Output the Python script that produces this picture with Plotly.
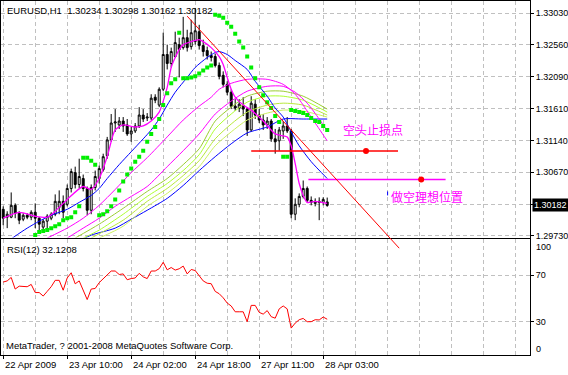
import plotly.graph_objects as go

# ---------------- data ----------------
opens = [1.30124, 1.30007, 1.30007, 1.30183, 1.30066, 1.29977, 1.30036, 1.30007, 1.30080, 1.29992,
         1.29860, 1.29948, 1.29992, 1.30051, 1.30154, 1.30242, 1.30198, 1.30433, 1.30668, 1.30492,
         1.30580, 1.30433, 1.30110, 1.30448, 1.30580, 1.30712, 1.30919, 1.31153, 1.31403, 1.31374,
         1.31432, 1.31374, 1.31241, 1.31285, 1.31359, 1.31521, 1.31477, 1.31477, 1.31785, 1.31668,
         1.31903, 1.32418, 1.32285, 1.32388, 1.32564, 1.32520, 1.32667, 1.32535, 1.32609, 1.32756,
         1.32550, 1.32476, 1.32403, 1.32388, 1.32256, 1.32109, 1.31976, 1.31859, 1.31653, 1.31624,
         1.31668, 1.31609, 1.31300, 1.31682, 1.31521, 1.31447, 1.31374, 1.31432, 1.31168, 1.31139,
         1.31285, 1.31359, 1.31285, 1.30051, 1.30198, 1.30315, 1.30433, 1.30257, 1.30212, 1.30242,
         1.30227, 1.30234]
highs = [1.30168, 1.30095, 1.30374, 1.30212, 1.30095, 1.30066, 1.30066, 1.30110, 1.30212, 1.30007,
         1.29977, 1.30051, 1.30080, 1.30345, 1.30404, 1.30330, 1.30492, 1.30727, 1.30756, 1.30874,
         1.30639, 1.30462, 1.30492, 1.30698, 1.30771, 1.30948, 1.31197, 1.31536, 1.31609, 1.31491,
         1.31491, 1.31462, 1.31344, 1.31403, 1.31638, 1.31609, 1.31550, 1.31829, 1.31829, 1.31932,
         1.32741, 1.32564, 1.32520, 1.32756, 1.32667, 1.32976, 1.32785, 1.32932, 1.33108, 1.32858,
         1.32638, 1.32535, 1.32462, 1.32432, 1.32300, 1.32168, 1.32021, 1.31903, 1.31756, 1.31756,
         1.31785, 1.31638, 1.31800, 1.31756, 1.31609, 1.31536, 1.31491, 1.31462, 1.31315, 1.31344,
         1.31432, 1.31491, 1.31315, 1.30286, 1.30360, 1.30551, 1.30462, 1.30315, 1.30286, 1.30301,
         1.30301, 1.30298]
lows = [1.29889, 1.29845, 1.29992, 1.29992, 1.29904, 1.29948, 1.29977, 1.29963, 1.29845, 1.29816,
        1.29801, 1.29845, 1.29963, 1.30022, 1.30051, 1.29992, 1.30168, 1.30374, 1.30433, 1.30433,
        1.30389, 1.30036, 1.30051, 1.30404, 1.30506, 1.30683, 1.30874, 1.31124, 1.31271, 1.31315,
        1.31271, 1.31212, 1.31124, 1.31256, 1.31329, 1.31418, 1.31432, 1.31447, 1.31697, 1.31638,
        1.31874, 1.32197, 1.32226, 1.32373, 1.32079, 1.32491, 1.32462, 1.32491, 1.32564, 1.32491,
        1.32388, 1.32344, 1.32315, 1.32226, 1.32050, 1.31932, 1.31815, 1.31609, 1.31580, 1.31565,
        1.31506, 1.31212, 1.31271, 1.31462, 1.31403, 1.31300, 1.31315, 1.31124, 1.30948, 1.30992,
        1.31168, 1.31256, 1.29992, 1.29963, 1.30154, 1.30286, 1.30227, 1.30183, 1.30168, 1.29963,
        1.30183, 1.30162]
closes = [1.29992, 1.30051, 1.30183, 1.30066, 1.29963, 1.30036, 1.30007, 1.30080, 1.29992, 1.29904,
          1.29948, 1.30022, 1.30051, 1.30242, 1.30242, 1.30080, 1.30433, 1.30683, 1.30492, 1.30610,
          1.30433, 1.30110, 1.30448, 1.30610, 1.30727, 1.30904, 1.31153, 1.31403, 1.31418, 1.31432,
          1.31359, 1.31241, 1.31285, 1.31359, 1.31521, 1.31462, 1.31491, 1.31771, 1.31741, 1.31903,
          1.32418, 1.32285, 1.32462, 1.32594, 1.32491, 1.32667, 1.32520, 1.32741, 1.32770, 1.32550,
          1.32462, 1.32403, 1.32373, 1.32256, 1.32094, 1.31976, 1.31859, 1.31653, 1.31624, 1.31682,
          1.31609, 1.31300, 1.31697, 1.31521, 1.31447, 1.31374, 1.31432, 1.31168, 1.31124, 1.31300,
          1.31359, 1.31285, 1.30051, 1.30198, 1.30315, 1.30433, 1.30257, 1.30227, 1.30242, 1.30227,
          1.30271, 1.30182]
rsi = [64, 65, 68, 58, 60.5, 60, 60, 62, 55, 55,
       52, 56, 60, 65.5, 65.5, 57, 67.5, 72, 62.5, 65,
       56.5, 49, 58, 58.5, 63.5, 67, 70, 73.5, 73.5, 70.5,
       71, 66, 67, 67.5, 71.5, 68.5, 67, 73.5, 73.5, 75.5,
       81, 74.5, 76.5, 74.3, 75.4, 77.7, 71, 74.8, 73.9, 69,
       65, 63, 62.6, 56, 54, 50.5, 46, 43.5, 38.5, 38.5,
       38.5, 30, 44, 44, 38, 36.5, 39.5, 34.3, 33, 41,
       43.5, 41, 24.5, 28.8, 31.7, 32.8, 30, 30, 31.7, 31.5,
       34, 32.1208]

# moving averages read at sample bars
ma_fast_bars = [0, 4, 8, 11, 13, 16, 20, 22, 24, 26, 28, 30, 33, 35, 37, 39, 40, 41, 42, 43, 44, 45, 47, 49,
                50, 52, 54, 55, 56, 57, 58, 60, 62, 65, 68, 70, 71, 72, 73, 74, 75, 76, 78, 81]
ma_fast = [1.29992, 1.30080, 1.30021, 1.30007, 1.30095, 1.30271, 1.30462, 1.30418, 1.30580, 1.30904,
           1.31300, 1.31374, 1.31344, 1.31359, 1.31432, 1.31565, 1.31727, 1.31932, 1.32226, 1.32373,
           1.32491, 1.32564, 1.32609, 1.32638, 1.32609, 1.32520, 1.32388, 1.32271, 1.32079, 1.31903,
           1.31785, 1.31668, 1.31594, 1.31432, 1.31241, 1.31212, 1.31197, 1.31065, 1.30801, 1.30506,
           1.30330, 1.30227, 1.30242, 1.30212]
ma_mid_bars = [1, 3, 6, 9, 12, 16, 19, 22, 24, 26, 29, 32, 35, 37, 39, 41, 43, 46, 48, 51, 53, 54, 56, 58,
               61, 63, 66, 68, 70, 72, 74, 77, 81]
ma_mid = [1.29639, 1.29727, 1.29845, 1.29948, 1.30036, 1.30124, 1.30227, 1.30330, 1.30433, 1.30580,
          1.30786, 1.30977, 1.31168, 1.31300, 1.31462, 1.31668, 1.31859, 1.32079, 1.32226, 1.32373,
          1.32447, 1.32462, 1.32418, 1.32329, 1.32197, 1.32021, 1.31800, 1.31624, 1.31491, 1.31271,
          1.31065, 1.30830, 1.30580]
ma_slow_bars = [20, 22, 28, 32, 36, 41, 45, 49, 53, 57, 61, 66, 70, 75, 81]
ma_slow = [1.29683, 1.29742, 1.29845, 1.29977, 1.30110, 1.30286, 1.30477, 1.30698, 1.30904, 1.31095,
           1.31256, 1.31344, 1.31462, 1.31462, 1.31462]
ma_m1_bars = [11, 16, 20, 24, 28, 32, 36, 41, 45, 49, 52, 54, 57, 61, 66, 70, 73, 76, 79, 81]
ma_m1 = [1.29698, 1.29845, 1.29992, 1.30183, 1.30418, 1.30668, 1.30889, 1.31197, 1.31447, 1.31653,
         1.31785, 1.31903, 1.31991, 1.32050, 1.32050, 1.31976, 1.31829, 1.31580, 1.31315, 1.31139]
ma_m2_bars = [16, 20, 24, 28, 32, 36, 41, 45, 49, 53, 57, 61, 66, 70, 73, 76, 79, 81]
ma_m2 = [1.29698, 1.29845, 1.29992, 1.30168, 1.30315, 1.30462, 1.30756, 1.30992, 1.31241, 1.31536,
         1.31727, 1.31874, 1.31947, 1.31947, 1.31859, 1.31697, 1.31462, 1.31285]
ma_g1_bars = [18, 24, 30, 36, 41, 45, 49, 53, 57, 61, 66, 70, 75, 81]
ma_g1 = [1.29698, 1.29904, 1.30139, 1.30389, 1.30580, 1.30786, 1.31021, 1.31432, 1.31638, 1.31800,
         1.31874, 1.31874, 1.31800, 1.31609]
ma_g2_bars = [20, 24, 30, 36, 41, 45, 49, 53, 57, 61, 66, 70, 75, 81]
ma_g2 = [1.29698, 1.29816, 1.30051, 1.30315, 1.30506, 1.30698, 1.30933, 1.31315, 1.31536, 1.31712,
         1.31800, 1.31800, 1.31741, 1.31565]
ma_g3_bars = [22, 30, 36, 41, 45, 49, 53, 57, 61, 66, 70, 75, 81]
ma_g3 = [1.29698, 1.29963, 1.30242, 1.30433, 1.30624, 1.30845, 1.31168, 1.31388, 1.31565, 1.31668,
         1.31697, 1.31668, 1.31521]
ma_g4_bars = [24, 30, 36, 41, 45, 49, 53, 57, 61, 66, 70, 75, 81]
ma_g4 = [1.29698, 1.29874, 1.30168, 1.30360, 1.30551, 1.30756, 1.31065, 1.31271, 1.31447, 1.31550,
         1.31594, 1.31580, 1.31491]

# parabolic SAR, bars 8..81
sar = [1.29742, 1.29786, 1.29801, 1.29816, 1.29845, 1.29874, 1.29904, 1.29963, 1.29992, 1.30007,
       1.30080, 1.30168, 1.30889, 1.30889, 1.30845, 1.30786, 1.30036, 1.30051, 1.30095, 1.30168,
       1.30271, 1.30404, 1.30536, 1.30639, 1.30727, 1.30830, 1.30904, 1.30992, 1.31124, 1.31241,
       1.31344, 1.31462, 1.31668, 1.31844, 1.31991, 1.32050, 1.32741, 1.32065, 1.32065, 1.32079,
       1.32094, 1.32138, 1.32182, 1.32226, 1.32256, 1.33006, 1.32991, 1.32961, 1.32888, 1.32829,
       1.32726, 1.32609, 1.32520, 1.32388, 1.32226, 1.32065, 1.31932, 1.31815, 1.31712, 1.31624,
       1.31506, 1.31418, 1.30904, 1.30904, 1.31594, 1.31580, 1.31565, 1.31550, 1.31521, 1.31477,
       1.31432, 1.31418, 1.31359, 1.31300]
sar_first_bar = 8

# drawn objects
trend_bars = [46, 99]
trend_prices = [1.32986, 1.29548]
stop_bars = [62, 98.7]
stop_price = 1.30987
stop_dot_bar = 90.7
target_bars = [76.3, 110.6]
target_price = 1.30565
target_dot_bar = 104.5
mark_bar = 96.1
mark_prices = [1.30389, 1.30330]
stop_text = "空头止损点"
stop_text_pos = (84.5, 1.31300)
target_text = "做空理想位置"
target_text_pos = (96.5, 1.30315)

# axes labels
price_ticks = [1.33030, 1.32559, 1.32087, 1.31616, 1.31144, 1.30673, 1.30201, 1.29730]
price_tick_text = ['1.33030', '1.32560', '1.32090', '1.31610', '1.31140', '1.30670', '', '1.29730']
rsi_ticks = [30, 70]
rsi_edge_labels = ['100', '0']
time_label_bars = [0, 16, 32, 48, 64, 80]
time_labels = ['22 Apr 2009', '23 Apr 10:00', '24 Apr 02:00', '24 Apr 18:00', '27 Apr 11:00', '28 Apr 03:00']
grid_bars = list(range(0, 132, 8))

# ---------------- layout geometry ----------------
W, H = 568, 375
def px_x(p):
    return p / W
def px_y(p):
    return 1 - p / H

xdom = [px_x(1), px_x(530)]
main_dom = [px_y(239.5), px_y(1)]
rsi_dom = [px_y(358), px_y(241)]
xrange_ = [-0.55, 131.7]
price_range = [1.29705, 1.33211]
rsi_range = [1.3, 100.9]

def bar_to_paper(b):
    return xdom[0] + (b - xrange_[0]) / (xrange_[1] - xrange_[0]) * (xdom[1] - xdom[0])
def price_to_paper(p):
    return main_dom[0] + (p - price_range[0]) / (price_range[1] - price_range[0]) * (main_dom[1] - main_dom[0])

FONT = "Liberation Sans, Arial, sans-serif"
GRID = "#c0c0c0"
DASH = "4px,3px"
MAG = "#ff00ff"
BLUE = "#0000ff"

fig = go.Figure()

def ma(xs, ys, color, width=1.0):
    fig.add_trace(go.Scatter(x=xs, y=ys, mode="lines", line=dict(color=color, width=width, shape="spline", smoothing=0.7),
                             xaxis="x", yaxis="y", hoverinfo="skip", showlegend=False))

ma(ma_slow_bars, ma_slow, BLUE)
ma(ma_g4_bars, ma_g4, "#ccf060")
ma(ma_g3_bars, ma_g3, "#b8e83c")
ma(ma_g2_bars, ma_g2, "#adff2f")
ma(ma_g1_bars, ma_g1, "#9acd32")
ma(ma_m2_bars, ma_m2, MAG)
ma(ma_m1_bars, ma_m1, MAG)
ma(ma_mid_bars, ma_mid, BLUE)

bars = list(range(len(closes)))
fig.add_trace(go.Candlestick(
    x=bars, open=opens, high=highs, low=lows, close=closes,
    increasing=dict(line=dict(color="black", width=1), fillcolor="white"),
    decreasing=dict(line=dict(color="black", width=1), fillcolor="black"),
    whiskerwidth=0, xaxis="x", yaxis="y", hoverinfo="skip", showlegend=False))

ma(ma_fast_bars, ma_fast, MAG, 1.3)

fig.add_trace(go.Scatter(x=list(range(sar_first_bar, sar_first_bar + len(sar))), y=sar, mode="markers",
                         marker=dict(symbol="square", size=4, color="#00ee00", line=dict(width=0)),
                         xaxis="x", yaxis="y", hoverinfo="skip", showlegend=False))

# horizontal drawn lines with dots
fig.add_trace(go.Scatter(x=stop_bars, y=[stop_price, stop_price], mode="lines",
                         line=dict(color="#ff0000", width=1.5), xaxis="x", yaxis="y", hoverinfo="skip", showlegend=False))
fig.add_trace(go.Scatter(x=target_bars, y=[target_price, target_price], mode="lines",
                         line=dict(color=MAG, width=1.5), xaxis="x", yaxis="y", hoverinfo="skip", showlegend=False))
fig.add_trace(go.Scatter(x=[stop_dot_bar, target_dot_bar], y=[stop_price, target_price], mode="markers",
                         marker=dict(symbol="circle", size=6, color="#ff0000", line=dict(width=0)),
                         xaxis="x", yaxis="y", hoverinfo="skip", showlegend=False))
fig.add_trace(go.Scatter(x=[mark_bar, mark_bar], y=mark_prices, mode="lines",
                         line=dict(color=BLUE, width=1), xaxis="x", yaxis="y", hoverinfo="skip", showlegend=False))

# RSI
fig.add_trace(go.Scatter(x=bars, y=rsi, mode="lines", line=dict(color="#ff0000", width=1),
                         xaxis="x2", yaxis="y2", hoverinfo="skip", showlegend=False))

# trend line (extends across the panel border like in the terminal)
fig.add_shape(type="line", xref="paper", yref="paper",
              x0=bar_to_paper(trend_bars[0]), y0=price_to_paper(trend_prices[0]),
              x1=bar_to_paper(trend_bars[1]), y1=price_to_paper(trend_prices[1]),
              line=dict(color="#ff0000", width=1))

axis_common = dict(showline=True, linecolor="black", linewidth=1, mirror=True, zeroline=False,
                   gridcolor=GRID, griddash=DASH, gridwidth=1)

minor_bars = [b for b in grid_bars if b not in time_label_bars]
fig.update_layout(
    width=W, height=H, autosize=False,
    margin=dict(l=0, r=0, t=0, b=0, pad=0),
    paper_bgcolor="white", plot_bgcolor="white",
    font=dict(family=FONT, size=9, color="black"),
    showlegend=False,
    xaxis=dict(domain=xdom, range=xrange_, anchor="y", tickmode="array", tickvals=grid_bars,
               showticklabels=False, ticks="", showgrid=True, rangeslider=dict(visible=False), **axis_common),
    yaxis=dict(domain=main_dom, range=price_range, anchor="x", side="right", tickmode="array",
               tickvals=price_ticks, ticktext=price_tick_text, ticks="outside", ticklen=3,
               tickcolor="black", showgrid=True, tickfont=dict(size=9, family=FONT), **axis_common),
    xaxis2=dict(domain=xdom, range=xrange_, anchor="y2", tickmode="array", tickvals=time_label_bars,
                showticklabels=False, ticks="outside", ticklen=3, tickcolor="black", showgrid=True,
                minor=dict(tickvals=minor_bars, showgrid=True, gridcolor=GRID, griddash=DASH, ticks=""),
                **axis_common),
    yaxis2=dict(domain=rsi_dom, range=rsi_range, anchor="x2", side="right", tickmode="array",
                tickvals=rsi_ticks, ticks="outside", ticklen=3, tickcolor="black", showgrid=True,
                tickfont=dict(size=9, family=FONT), **axis_common),
)

ann = []
ann.append(dict(text=f"EURUSD,H1\u00a0\u00a0{opens[-1]:.5f} {highs[-1]:.5f} {lows[-1]:.5f} {closes[-1]:.5f}",
                xref="paper", yref="paper", x=px_x(5), y=px_y(3), xanchor="left", yanchor="top",
                showarrow=False, font=dict(size=9.5)))
ann.append(dict(text=f"RSI(12) {rsi[-1]:.4f}", xref="paper", yref="paper", x=px_x(5), y=px_y(244),
                xanchor="left", yanchor="top", showarrow=False, font=dict(size=9.5)))
ann.append(dict(text="MetaTrader, ? 2001-2008 MetaQuotes Software Corp.", xref="paper", yref="paper",
                x=px_x(4), y=px_y(356), xanchor="left", yanchor="bottom", showarrow=False, font=dict(size=9.5)))
for b, t in zip(time_label_bars, time_labels):
    ann.append(dict(text=t, xref="x2", yref="paper", x=b, y=px_y(360), xanchor="left", yanchor="top",
                    showarrow=False, font=dict(size=9.5)))
ann.append(dict(text=rsi_edge_labels[0], xref="paper", yref="paper", x=px_x(534), y=px_y(242),
                xanchor="left", yanchor="top", showarrow=False, font=dict(size=9)))
ann.append(dict(text=rsi_edge_labels[1], xref="paper", yref="paper", x=px_x(534), y=px_y(359),
                xanchor="left", yanchor="bottom", showarrow=False, font=dict(size=9)))
ann.append(dict(text=f"{closes[-1]:.5f}", xref="paper", yref="y", x=px_x(532), y=closes[-1],
                xanchor="left", yanchor="middle", showarrow=False, bgcolor="black", borderpad=1,
                font=dict(size=9, color="white")))
ann.append(dict(text=stop_text, xref="x", yref="y", x=stop_text_pos[0], y=stop_text_pos[1],
                xanchor="left", yanchor="middle", showarrow=False,
                font=dict(size=12, color=MAG, family="Noto Sans CJK SC")))
ann.append(dict(text=target_text, xref="x", yref="y", x=target_text_pos[0], y=target_text_pos[1],
                xanchor="left", yanchor="middle", showarrow=False,
                font=dict(size=12, color=MAG, family="Noto Sans CJK SC")))
fig.update_layout(annotations=ann)

fig.write_html("out.html", config={"displayModeBar": False},
               post_script="document.body.style.margin='0px';document.body.style.overflow='hidden';")
